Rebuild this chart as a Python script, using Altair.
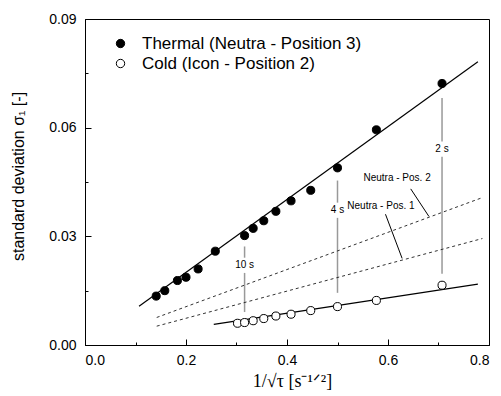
import altair as alt
import pandas as pd

# ---- data ----
series_names = ["Thermal (Neutra - Position 3)", "Cold (Icon - Position 2)"]

thermal_x = [0.141, 0.158, 0.183, 0.200, 0.224, 0.258, 0.316, 0.333, 0.354, 0.378, 0.408, 0.447, 0.500, 0.577, 0.707]
thermal_y = [0.0135, 0.0150, 0.0178, 0.0187, 0.0210, 0.0259, 0.0302, 0.0322, 0.0343, 0.0369, 0.0398, 0.0427, 0.0489, 0.0594, 0.0722]

cold_x = [0.302, 0.316, 0.333, 0.354, 0.378, 0.408, 0.447, 0.500, 0.577, 0.707]
cold_y = [0.0060, 0.0062, 0.0067, 0.0073, 0.0080, 0.0085, 0.0095, 0.0106, 0.0123, 0.0165]

thermal_fit_x = [0.107, 0.778]
thermal_fit_y = [0.0107, 0.0782]
cold_fit_x = [0.255, 0.778]
cold_fit_y = [0.0057, 0.0168]

pos2_x = [0.142, 0.787]
pos2_y = [0.0076, 0.0407]
pos1_x = [0.142, 0.787]
pos1_y = [0.0052, 0.0294]

time_labels = ["10 s", "4 s", "2 s"]
time_x = [0.316, 0.500, 0.707]
time_top = [0.0272, 0.0454, 0.0682]
time_bottom = [0.0091, 0.0144, 0.0197]
time_label_y = [0.0220, 0.0372, 0.0541]
label_gap = 0.0021

pos_labels = ["Neutra - Pos. 2", "Neutra - Pos. 1"]
pos_label_x = [0.618, 0.586]
pos_label_y = [0.0460, 0.0385]
pointer_x1 = [0.645, 0.595]
pointer_y1 = [0.0431, 0.0361]
pointer_x2 = [0.681, 0.628]
pointer_y2 = [0.0355, 0.0239]

x_ticks = [0.0, 0.1, 0.2, 0.3, 0.4, 0.5, 0.6, 0.7, 0.8]
y_ticks = [0.0, 0.015, 0.03, 0.045, 0.06, 0.075, 0.09]

# ---- tables ----
points = pd.DataFrame({
    "x": thermal_x + cold_x,
    "y": thermal_y + cold_y,
    "series": [series_names[0]] * len(thermal_x) + [series_names[1]] * len(cold_x),
})
fits = pd.DataFrame({
    "x": thermal_fit_x + cold_fit_x,
    "y": thermal_fit_y + cold_fit_y,
    "line": ["t", "t", "c", "c"],
})
dotted = pd.DataFrame({
    "x": pos2_x + pos1_x,
    "y": pos2_y + pos1_y,
    "line": ["p2", "p2", "p1", "p1"],
})
seg_rows = []
for xv, top, bot, ly in zip(time_x, time_top, time_bottom, time_label_y):
    seg_rows.append({"x": xv, "y": ly + label_gap, "y2": top})
    seg_rows.append({"x": xv, "y": bot, "y2": ly - label_gap})
segments = pd.DataFrame(seg_rows)
time_df = pd.DataFrame({"x": time_x, "y": time_label_y, "label": time_labels})
pos_df = pd.DataFrame({"x": pos_label_x, "y": pos_label_y, "label": pos_labels})
pointers = pd.DataFrame({"x": pointer_x1, "y": pointer_y1, "x2": pointer_x2, "y2": pointer_y2})

# ---- scales / axes ----
xscale = alt.Scale(domain=[0, 0.8], nice=False, zero=False)
yscale = alt.Scale(domain=[0, 0.09], nice=False, zero=False)

xaxis = alt.Axis(
    values=x_ticks,
    labelExpr="round(datum.value*10) % 2 == 0 ? format(datum.value, '.1f') : ''",
    tickSize={"condition": {"test": "round(datum.value*10) % 2 == 0", "value": -6}, "value": -3},
    labelPadding=14,
    title="1/√τ [s⁻¹ᐟ²]",
    titleFont="Liberation Serif",
    titleFontSize=18,
    titleFontWeight="normal",
    titleX=207,
    titleY=36,
    titleBaseline="middle",
    titleAlign="center",
    grid=False,
)
yaxis = alt.Axis(
    values=y_ticks,
    labelExpr="round(datum.value*1000/15) % 2 == 0 ? format(datum.value, '.2f') : ''",
    tickSize={"condition": {"test": "round(datum.value*1000/15) % 2 == 0", "value": -6}, "value": -3},
    labelPadding=15,
    title="standard deviation  σ₁  [-]",
    titleFont="Liberation Sans",
    titleFontSize=16,
    titleFontWeight="normal",
    titleX=-67,
    titleY=157,
    titleAngle=-90,
    titleBaseline="middle",
    titleAlign="center",
    grid=False,
)

X = alt.X("x:Q", scale=xscale, axis=xaxis)
Y = alt.Y("y:Q", scale=yscale, axis=yaxis)

seg_layer = alt.Chart(segments).mark_rule(color="#999999", strokeWidth=1.5).encode(
    x=X, y=Y, y2="y2:Q"
)
dotted_layer = alt.Chart(dotted).mark_line(color="#333333", strokeWidth=1, strokeDash=[3, 3]).encode(
    x=X, y=Y, detail="line:N"
)
fit_layer = alt.Chart(fits).mark_line(color="black", strokeWidth=1.2).encode(
    x=X, y=Y, detail="line:N"
)
pointer_layer = alt.Chart(pointers).mark_rule(color="black", strokeWidth=1).encode(
    x=X, y=Y, x2="x2:Q", y2="y2:Q"
)
point_layer = alt.Chart(points).mark_point(
    shape="circle", filled=True, opacity=1, size=65, stroke="black", strokeWidth=1
).encode(
    x=X, y=Y,
    fill=alt.Fill(
        "series:N",
        scale=alt.Scale(domain=series_names, range=["black", "white"]),
        legend=alt.Legend(
            title=None, orient="none", legendX=27, legendY=16,
            labelFontSize=17, labelFont="Liberation Sans", labelColor="black",
            labelLimit=0,
            symbolType="circle", symbolSize=70, symbolStrokeColor="black",
            symbolStrokeWidth=1, labelOffset=13, rowPadding=2,
        ),
    ),
)
time_text = alt.Chart(time_df).mark_text(
    font="Liberation Sans", fontSize=10, color="black", align="center", baseline="middle"
).encode(x=X, y=Y, text="label:N")
pos_text = alt.Chart(pos_df).mark_text(
    font="Liberation Sans", fontSize=10, color="black", align="center", baseline="middle"
).encode(x=X, y=Y, text="label:N")

chart = alt.layer(
    seg_layer, dotted_layer, fit_layer, pointer_layer, point_layer, time_text, pos_text
).properties(
    width=404, height=326,
    padding={"left": 85, "top": 19, "right": 12, "bottom": 51},
    autosize=alt.AutoSizeParams(type="none"),
    background="white",
).configure_view(
    stroke="black", strokeWidth=1
).configure_axis(
    labelFont="Liberation Sans", labelFontSize=14, labelColor="black",
    domainColor="black", tickColor="black", titleColor="black",
)

chart.save("out.html", embed_options={"renderer": "svg", "actions": False})
